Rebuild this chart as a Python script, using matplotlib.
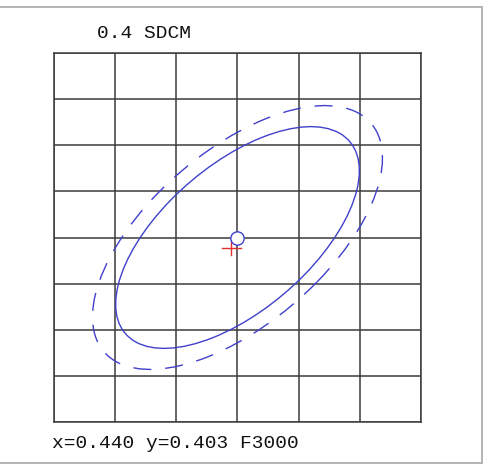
"""MacAdam-style ellipse plot: 0.4 SDCM around x=0.440, y=0.403."""
import numpy as np
import matplotlib
matplotlib.use("Agg")
import matplotlib.pyplot as plt
from matplotlib.patches import Ellipse, Rectangle

# chart data (chromaticity space)
center_xy = [0.440, 0.403]
point_xy = [0.43990, 0.40278]          # red cross: measured point
cross_half = 0.00016                   # half-length of cross arms
ellipse_axes = [0.00281, 0.00136]      # semi-axes of the solid ellipse
ellipse_angle = 53.7                   # degrees
ellipse_scales = [1.0, 1.19]           # solid, dashed
x_ticks = [0.437, 0.438, 0.439, 0.440, 0.441, 0.442, 0.443]
y_ticks = [0.399, 0.400, 0.401, 0.402, 0.403, 0.404, 0.405, 0.406, 0.407]
title_text = "0.4 SDCM"
footer_text = "x=0.440 y=0.403 F3000"

BLUE = "#4040cc"
RED = "#e03030"
GRID = "#3c3c3c"
MONO = ["Liberation Mono", "DejaVu Sans Mono"]

W, H, DPI = 485, 466, 100
fig = plt.figure(figsize=(W / DPI, H / DPI), dpi=DPI, facecolor="white")

# light outer frame
fig.patches.append(Rectangle((-1 / W, (H - 463) / H), 483 / W, 456 / H,
                             transform=fig.transFigure, fill=False,
                             edgecolor="#a8a8a8", linewidth=1.2))

ax = fig.add_axes([54 / W, (H - 422) / H, 367 / W, 369 / H])
ax.set_xlim(x_ticks[0], x_ticks[-1])
ax.set_ylim(y_ticks[0], y_ticks[-1])
ax.set_xticks(x_ticks)
ax.set_yticks(y_ticks)
ax.tick_params(length=0, labelbottom=False, labelleft=False)
ax.grid(True, color=GRID, linewidth=1.1)
for sp in ax.spines.values():
    sp.set_color(GRID)
    sp.set_linewidth(1.1)

for s, ls in zip(ellipse_scales, ["-", (0, (13, 10))]):
    ax.add_patch(Ellipse(center_xy, 2 * ellipse_axes[0] * s, 2 * ellipse_axes[1] * s,
                         angle=ellipse_angle, fill=False, edgecolor=BLUE,
                         linewidth=1.0, linestyle=ls, zorder=3))

# measured point cross
ax.plot([point_xy[0] - cross_half, point_xy[0] + cross_half], [point_xy[1]] * 2,
        color=RED, linewidth=1.0, zorder=4)
ax.plot([point_xy[0]] * 2, [point_xy[1] - cross_half, point_xy[1] + cross_half],
        color=RED, linewidth=1.0, zorder=4)

# target circle
ax.plot([center_xy[0]], [center_xy[1]], marker="o", markersize=9.6,
        markerfacecolor="white", markeredgecolor=BLUE, markeredgewidth=1.0,
        linestyle="none", zorder=5)

fig.text(97 / W, 1 - 33 / H, title_text, family=MONO, fontsize=14,
         va="center", ha="left", color="#111111")
fig.text(52 / W, 1 - 443 / H, footer_text, family=MONO, fontsize=14,
         va="center", ha="left", color="#111111")

fig.savefig("out.png", dpi=DPI, facecolor="white")
